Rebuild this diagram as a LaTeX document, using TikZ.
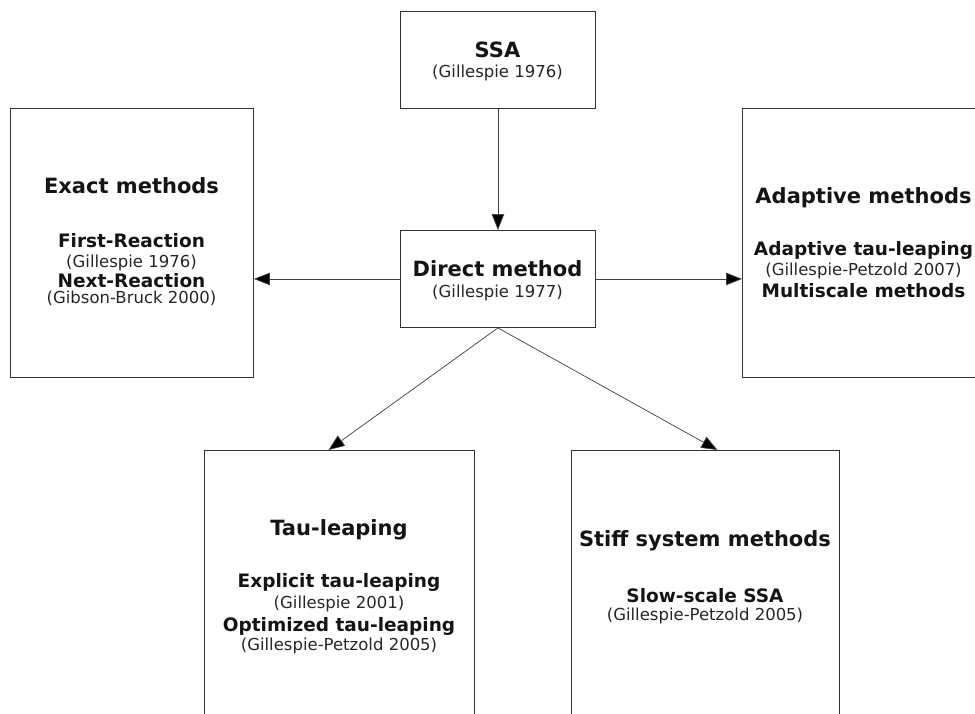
\documentclass[tikz,border=0pt]{standalone}
\usepackage{fontspec}
\setmainfont{DejaVu Sans}
\usetikzlibrary{arrows.meta,calc}
\begin{document}
\begin{tikzpicture}[x=1pt,y=-1pt,
  box/.style={draw=black!80, line width=0.9pt, inner sep=0pt, anchor=north west},
  ttl/.style={font=\fontsize{21}{24}\selectfont\bfseries, anchor=base, inner sep=0pt, text=black!92},
  itm/.style={font=\fontsize{18.5}{20}\selectfont\bfseries, anchor=base, inner sep=0pt, text=black!92},
  cite/.style={font=\fontsize{16.5}{18}\selectfont, anchor=base, inner sep=0pt, text=black!85},
  arr/.style={draw=black!75, line width=0.7pt, -{Triangle[length=16pt,width=12.5pt,fill=black]}}]
\clip (0,0) rectangle (975,713);
\fill[white] (0,0) rectangle (975,713);

% boxes
\node[box, minimum width=195pt, minimum height=97pt] (ssa) at (400,11) {};
\node[box, minimum width=195pt, minimum height=97pt] (direct) at (400,230) {};
\node[box, minimum width=243pt, minimum height=269pt] (exact) at (10,108) {};
\node[box, minimum width=243pt, minimum height=269pt] (adapt) at (742,108) {};
\node[box, minimum width=270pt, minimum height=266pt] (tau) at (204,450) {};
\node[box, minimum width=268pt, minimum height=266pt] (stiff) at (571,450) {};

% SSA
\node[ttl] (ssaT) at (497.5,57) {SSA};
\node[cite] (ssaC) at (497.5,77) {(Gillespie 1976)};
% Direct
\node[ttl] (dirT) at (497.5,276) {Direct method};
\node[cite] (dirC) at (497.5,297) {(Gillespie 1977)};
% Exact
\node[ttl] (exT) at (131.5,193) {Exact methods};
\node[itm] (exA) at (131.5,247) {First-Reaction};
\node[cite] (exB) at (131.5,267) {(Gillespie 1976)};
\node[itm] (exC) at (131.5,287) {Next-Reaction};
\node[cite] (exD) at (131.5,303) {(Gibson-Bruck 2000)};
% Adaptive
\node[ttl] (adT) at (863.5,203) {Adaptive methods};
\node[itm] (adA) at (863.5,255) {Adaptive tau-leaping};
\node[cite] (adB) at (863.5,275) {(Gillespie-Petzold 2007)};
\node[itm] (adC) at (863.5,297) {Multiscale methods};
% Tau
\node[ttl] (tauT) at (339,535) {Tau-leaping};
\node[itm] (tauA) at (339,587) {Explicit tau-leaping};
\node[cite] (tauB) at (339,608) {(Gillespie 2001)};
\node[itm] (tauC) at (339,631) {Optimized tau-leaping};
\node[cite] (tauD) at (339,650) {(Gillespie-Petzold 2005)};
% Stiff
\node[ttl] (stT) at (705,546) {Stiff system methods};
\node[itm] (stA) at (705,602) {Slow-scale SSA};
\node[cite] (stB) at (705,620) {(Gillespie-Petzold 2005)};

% connectors
\draw[arr] (ssa.south) -- (direct.north);
\draw[arr] (direct.west) -- (exact.east |- direct.west);
\draw[arr] (direct.east) -- (adapt.west |- direct.east);
\draw[arr] (direct.south) -- ([xshift=-11pt]tau.north);
\draw[arr] (direct.south) -- ([xshift=12pt]stiff.north);
\end{tikzpicture}
\end{document}
